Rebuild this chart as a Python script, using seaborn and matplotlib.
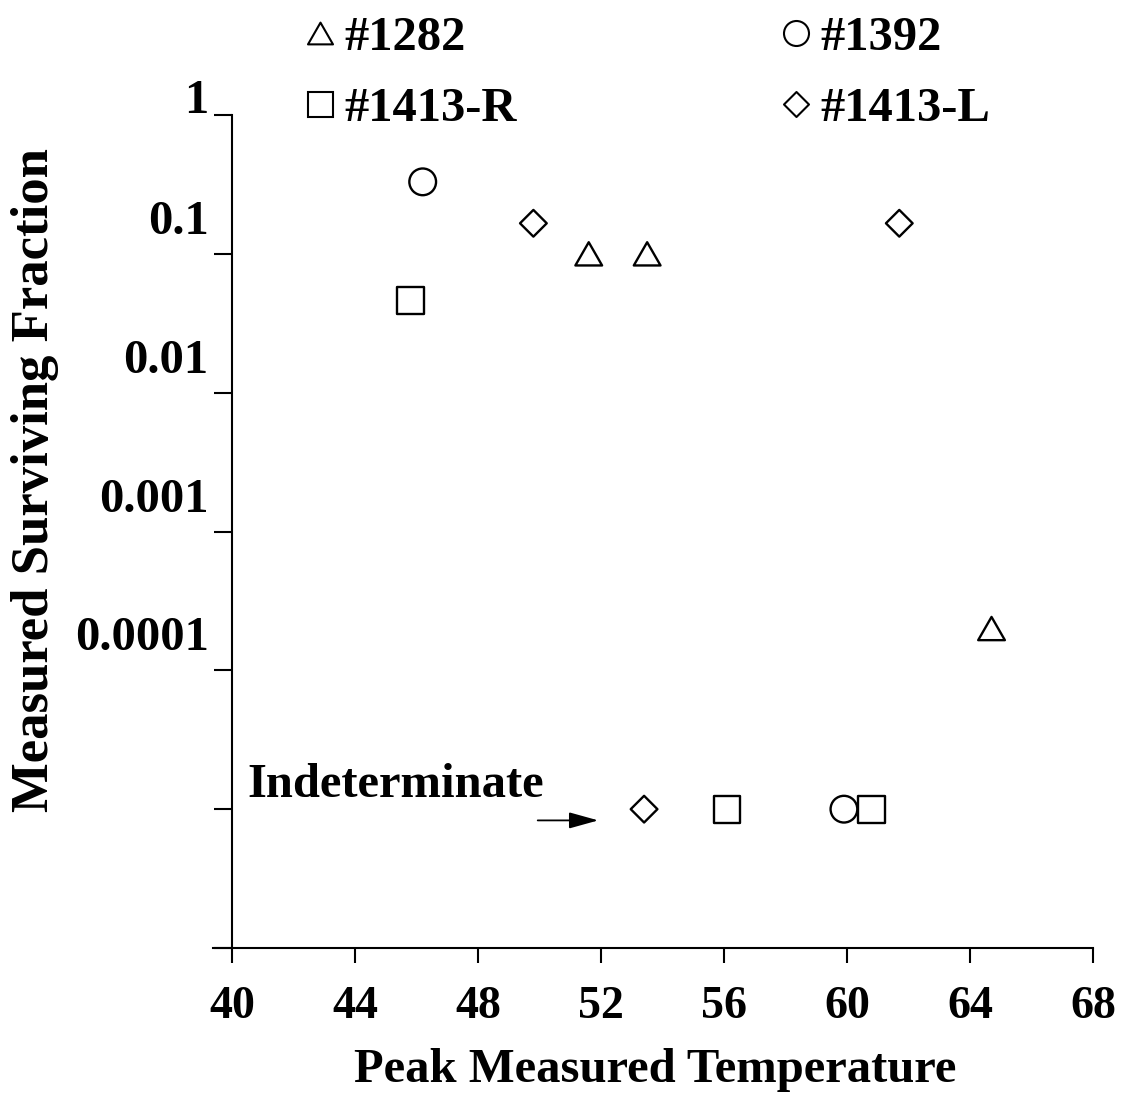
import pandas as pd
import seaborn as sns
import matplotlib.pyplot as plt
import matplotlib.transforms as mtransforms
from matplotlib.lines import Line2D
from matplotlib.path import Path
from matplotlib.ticker import NullLocator

# data
samples = ['#1282'] * 3 + ['#1392'] * 2 + ['#1413-R'] * 3 + ['#1413-L'] * 3
temperature = [51.6, 53.5, 64.7, 46.2, 59.9, 45.8, 56.1, 60.8, 49.8, 61.7, 53.4]
surviving = [0.1, 0.1, 2.0e-4, 0.33, 1e-5, 0.046, 1e-5, 1e-5, 0.166, 0.166, 1e-5]

legend_order = ['#1282', '#1413-R', '#1392', '#1413-L']
y_ticks = [1, 0.1, 0.01, 0.001, 0.0001, 1e-5, 1e-6]
y_tick_labels = ['1', '0.1', '0.01', '0.001', '0.0001', '', '']
x_ticks = [40, 44, 48, 52, 56, 60, 64, 68]

# open triangle / diamond as closed paths
tri = Path([(-1, -0.87), (1, -0.87), (0, 0.87), (-1, -0.87)], closed=True)
dia = Path([(-1, 0), (0, 1), (1, 0), (0, -1), (-1, 0)], closed=True)
marker_map = {'#1282': tri, '#1392': 'o', '#1413-R': 's', '#1413-L': dia}

df = pd.DataFrame({'sample': samples, 'temperature': temperature, 'surviving': surviving})

sns.set_style('ticks')
plt.rcParams['font.family'] = ['Liberation Serif', 'DejaVu Serif']
plt.rcParams['font.weight'] = 'bold'
for key in ['text.color', 'axes.labelcolor', 'xtick.color', 'ytick.color', 'axes.edgecolor']:
    plt.rcParams[key] = 'black'

fig = plt.figure(figsize=(11.21, 10.98), dpi=100)
ax = fig.add_axes([213 / 1121, 1 - 948 / 1098, 880 / 1121, 833 / 1098])

ax.set_yscale('log')
sns.scatterplot(
    data=df, x='temperature', y='surviving', style='sample', markers=marker_map,
    s=370, color='white', edgecolor='black', linewidth=1.7, legend=False,
    ax=ax, zorder=3, clip_on=False
)

ax.set_ylim(1e-6, 1)
ax.set_xlim(39.38, 68)
ax.set_yticks(y_ticks)
ax.yaxis.set_minor_locator(NullLocator())
ax.set_xticks(x_ticks)
ax.set_xticklabels([str(t) for t in x_ticks])

for s in ['top', 'right']:
    ax.spines[s].set_visible(False)
ax.spines['left'].set_position(('data', 40))
for s in ['left', 'bottom']:
    ax.spines[s].set_linewidth(1.5)

ax.tick_params(axis='y', direction='out', length=13, width=1.5, labelleft=False)
ax.tick_params(axis='x', direction='out', length=11, width=1.5, labelsize=33, pad=16)

# y tick labels sit above their ticks
for val, lab in zip(y_ticks, y_tick_labels):
    if not lab:
        continue
    off = 2 if val == 1 else 20
    tr = ax.get_yaxis_transform() + mtransforms.ScaledTranslation(0, off / 100, fig.dpi_scale_trans)
    ax.text(-0.005, val, lab, transform=tr, ha='right', va='baseline', fontsize=35, fontweight='bold')

ax.set_xlabel('Peak Measured Temperature', fontsize=35, fontweight='bold', va='center')
ax.xaxis.set_label_coords(0.502, -0.146)
ax.set_ylabel('Measured Surviving Fraction', fontsize=38, fontweight='bold', va='center')
ax.yaxis.set_label_coords(-0.202, 0.562)

ax.text(40.5, 1.5e-5, 'Indeterminate', fontsize=35, fontweight='bold', va='center', ha='left')
ax.annotate('', xy=(52.0, 8.3e-6), xytext=(49.85, 8.3e-6),
            arrowprops=dict(arrowstyle='-|>,head_length=0.9,head_width=0.25',
                            color='black', lw=1.3, mutation_scale=20))

handles = [Line2D([], [], linestyle='none', marker=marker_map[k], markersize=18,
                  markerfacecolor='white', markeredgecolor='black', markeredgewidth=1.5)
           for k in legend_order]
fig.legend(handles, legend_order, ncol=2, loc='upper left',
           bbox_to_anchor=(303 / 1121, 1 - 16 / 1098), frameon=False, fontsize=35,
           handlelength=0.7, handletextpad=0.15, columnspacing=5.4, labelspacing=0.55,
           borderpad=0, borderaxespad=0)

fig.savefig('out.png', dpi=100)
